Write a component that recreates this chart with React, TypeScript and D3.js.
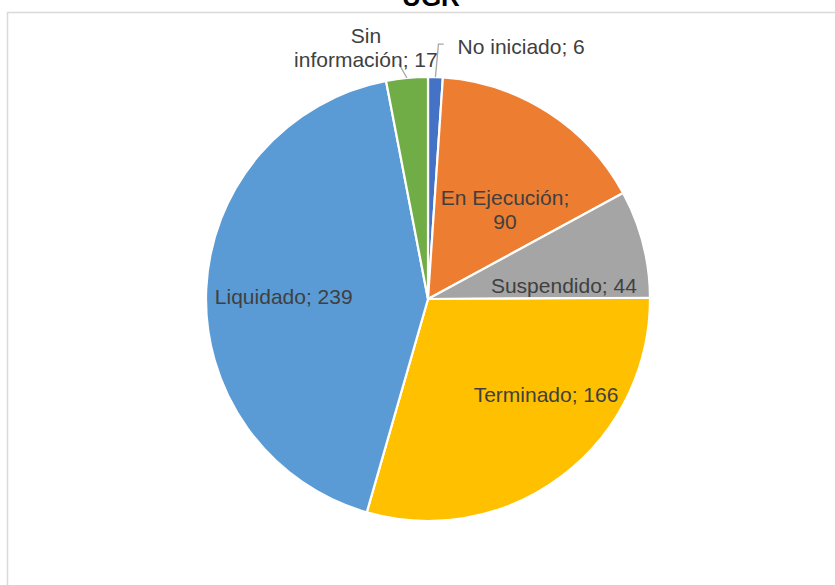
import React from "react";
import * as d3 from "d3";

// slice data, in drawing order (clockwise from 12 o'clock)
const categories = ["No iniciado", "En Ejecución", "Suspendido", "Terminado", "Liquidado", "Sin información"];
const values = [6, 90, 44, 166, 239, 17];
const colors = ["#4472C4", "#ED7D31", "#A5A5A5", "#FFC000", "#5B9BD5", "#70AD47"];
const title = "UGR";

// label placement: polar position (deg from top, fraction of radius) and text lines
const labelLayout = [
  { angle: 20.3, rf: 1.21, lines: ["No iniciado; 6"], leader: "elbow" },
  { angle: 40.9, rf: 0.53, lines: ["En Ejecución;", "90"], leader: "" },
  { angle: 84.5, rf: 0.615, lines: ["Suspendido; 44"], leader: "" },
  { angle: 129.1, rf: 0.685, lines: ["Terminado; 166"], leader: "" },
  { angle: 270.8, rf: 0.65, lines: ["Liquidado; 239"], leader: "" },
  { angle: 346.1, rf: 1.165, lines: ["Sin", "información; 17"], leader: "straight" },
];

const W = 835;
const H = 585;
const cx = 428;
const cy = 299;
const R = 222;
const FONT = 21;
const LINE = 24;

const App: React.FC = () => {
  const pie = d3.pie<number>().sort(null).value((d) => d);
  const arcs = pie(values);
  const arcGen = d3.arc<d3.PieArcDatum<number>>().innerRadius(0).outerRadius(R);

  const polar = (deg: number, r: number): [number, number] => {
    const a = (deg * Math.PI) / 180;
    return [r * Math.sin(a), -r * Math.cos(a)];
  };

  return (
    <div style={{ position: "absolute", left: 0, top: 0 }}>
      <svg width={W} height={H} style={{ display: "block", fontFamily: "'Liberation Sans', Arial, sans-serif" }}>
        <rect x={0} y={0} width={W} height={H} fill="#fff" />
        <rect x={7.5} y={12.5} width={W + 50} height={H + 50} fill="#fff" stroke="#d9d9d9" strokeWidth={1.5} />
        <text x={431} y={5.5} textAnchor="middle" fontSize={26} fontWeight="bold" fill="#000">
          {title}
        </text>
        <g transform={`translate(${cx},${cy})`}>
          {arcs.map((a, i) => (
            <path key={categories[i]} d={arcGen(a) || ""} fill={colors[i]} stroke="#fff" strokeWidth={2.2} strokeLinejoin="round" />
          ))}
          {arcs.map((a, i) => {
            const lay = labelLayout[i];
            const [lx, ly] = polar(lay.angle, R * lay.rf);
            const n = lay.lines.length;
            const top = ly - ((n - 1) * LINE) / 2;
            const mid = ((a.startAngle + a.endAngle) / 2) * (180 / Math.PI);
            const [sx, sy] = polar(mid, R);
            let leader: React.ReactNode = null;
            if (lay.leader === "elbow") {
              const w = lay.lines[0].length * FONT * 0.5;
              const ex = lx - w / 2 - 4;
              leader = <polyline points={`${sx},${sy} ${sx + 3},${ly - 3} ${ex},${ly - 3}`} fill="none" stroke="#a6a6a6" strokeWidth={1.3} />;
            } else if (lay.leader === "straight") {
              leader = <line x1={sx} y1={sy} x2={sx - 8} y2={top + LINE + 4} stroke="#a6a6a6" strokeWidth={1.3} />;
            }
            return (
              <g key={"l" + i}>
                {leader}
                <text textAnchor="middle" fontSize={FONT} fill="#404040">
                  {lay.lines.map((t, j) => (
                    <tspan key={j} x={lx} y={top + j * LINE + FONT * 0.35}>
                      {t}
                    </tspan>
                  ))}
                </text>
              </g>
            );
          })}
        </g>
      </svg>
    </div>
  );
};

export default App;
